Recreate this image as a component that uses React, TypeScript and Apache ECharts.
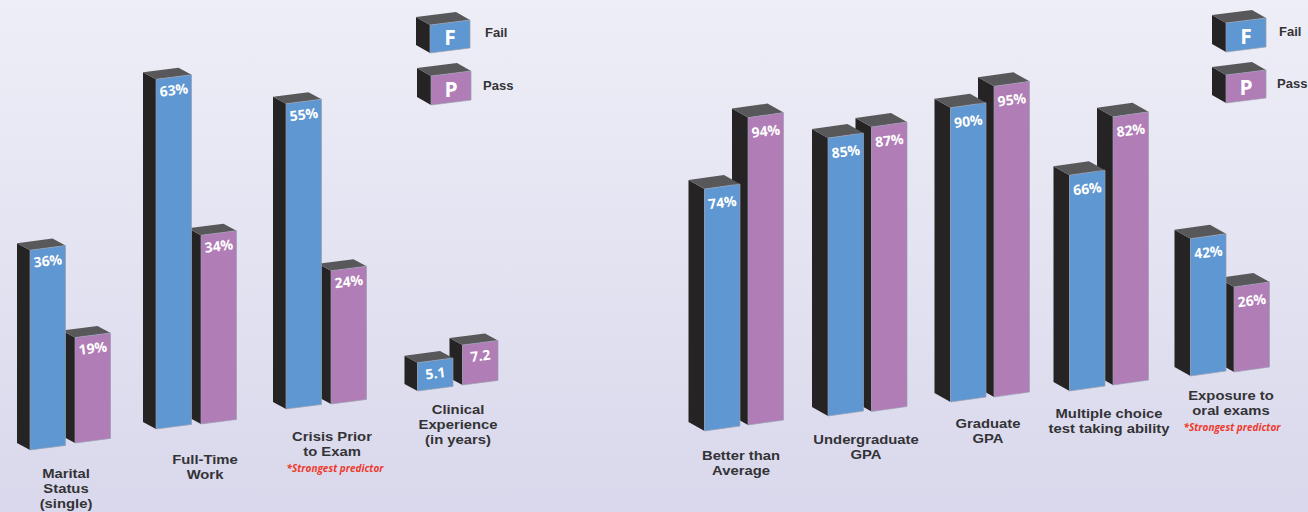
import React, { useEffect, useRef } from "react";
import * as echarts from "echarts";

// ---- data ----
const leftCategories = ["Marital Status (single)", "Full-Time Work", "Crisis Prior to Exam", "Clinical Experience (in years)"];
const leftFail = [36, 63, 55, 5.1];
const leftPass = [19, 34, 24, 7.2];
const leftUnits = ["%", "%", "%", ""];
const rightCategories = ["Better than Average", "Undergraduate GPA", "Graduate GPA", "Multiple choice test taking ability", "Exposure to oral exams"];
const rightFail = [74, 85, 90, 66, 42];
const rightPass = [94, 87, 95, 82, 26];
const rightUnits = ["%", "%", "%", "%", "%"];

// ---- layout ----
const leftFailBase = [450, 429, 409, 391];
const leftPassBase = [443, 424, 404, 385];
const leftNudge = [0, -3, -2, 0.5];
const rightFailBase = [431, 416, 402, 391, 376];
const rightPassBase = [425, 411.5, 397, 385, 372];
const rightNudge = [-0.5, 1.5, 2.5, 0, -0.5];

const BLUE = "#5e97d1";
const PURPLE = "#b07db6";
const SIDE = "#252324";
const TOP = "#58585a";
const EDGE = "#9a9fb0";
const INK = "#333336";
const RED = "#ee3a2c";
const FONT = '"Open Sans", sans-serif';
const CAPTION_FONT = '"Liberation Sans", sans-serif';

type Geo = { w: number; rise: number; dx: number; dy: number };

function box(x: number, base: number, h: number, g: Geo, color: string) {
  const bl = [x, base];
  const br = [x + g.w, base - g.rise];
  const tr = [x + g.w, base - g.rise - h];
  const tl = [x, base - h];
  const sh = (p: number[]) => [p[0] - g.dx, p[1] - g.dy];
  return [
    { type: "polygon", shape: { points: [bl, tl, sh(tl), sh(bl)] }, style: { fill: SIDE } },
    { type: "polygon", shape: { points: [tl, tr, sh(tr), sh(tl)] }, style: { fill: TOP } },
    { type: "polygon", shape: { points: [bl, br, tr, tl] }, style: { fill: color, stroke: EDGE, lineWidth: 0.7 } },
  ];
}

function barSeries(
  name: string,
  values: number[],
  units: string[],
  bases: number[],
  nudges: number[],
  axisIndex: number,
  color: string,
  lead: number,
  g: Geo,
  labelDrop: number
) {
  return {
    type: "custom",
    name,
    xAxisIndex: axisIndex,
    yAxisIndex: axisIndex,
    silent: true,
    encode: { x: 0, y: 1 },
    data: values.map((v, i) => [i, v]),
    renderItem: (_: any, api: any) => {
      const i = api.value(0);
      const v = api.value(1);
      const top = api.coord([i, v]);
      const zero = api.coord([i, 0]);
      const h = zero[1] - top[1];
      const x = top[0] + nudges[i] + lead;
      const base = bases[i];
      const label = {
        type: "text",
        x: x + g.w / 2,
        y: base - h - g.rise / 2 + labelDrop,
        rotation: 0.12,
        style: {
          text: `${v}${units[i]}`,
          fill: "#ffffff",
          fontFamily: FONT,
          fontWeight: 700,
          fontSize: 14,
          align: "center",
          verticalAlign: "middle",
        },
      };
      return { type: "group", children: [...box(x, base, h, g, color), label] };
    },
  };
}

const legendGeo = (rise: number): Geo => ({ w: 40, rise, dx: 14, dy: 8 });

function legendCube(x: number, base: number, h: number, color: string, letter: string, caption: string, capX: number, capY: number) {
  const g = legendGeo(5);
  return [
    ...box(x, base, h, g, color),
    {
      type: "text",
      x: x + 20,
      y: base - h / 2 - 2,
      style: { text: letter, fill: "#ffffff", fontFamily: FONT, fontWeight: 700, fontSize: 21, align: "center", verticalAlign: "middle" },
    },
    {
      type: "text",
      x: capX,
      y: capY,
      style: { text: caption, fill: INK, fontFamily: CAPTION_FONT, fontWeight: 700, fontSize: 13, align: "left", verticalAlign: "middle" },
    },
  ];
}

function caption(text: string, x: number, y: number) {
  return {
    type: "text",
    x,
    y,
    scaleX: 1.14,
    style: { text, fill: INK, fontFamily: CAPTION_FONT, fontWeight: 700, fontSize: 13, lineHeight: 15, align: "center", verticalAlign: "middle" },
  };
}

function note(x: number, y: number) {
  return {
    type: "text",
    x,
    y,
    style: { text: "*Strongest predictor", fill: RED, fontFamily: FONT, fontWeight: 700, fontStyle: "italic", fontSize: 10, align: "center", verticalAlign: "middle" },
  };
}

export default function App() {
  const ref = useRef<HTMLDivElement>(null);
  useEffect(() => {
    document.body.style.margin = "0";
    const chart = echarts.init(ref.current!, undefined, { renderer: "svg" });
    const lg: Geo = { w: 35.5, rise: 4.6, dx: 13, dy: 7 };
    const rg: Geo = { w: 35.5, rise: 5, dx: 16, dy: 9 };
    chart.setOption({
      animation: false,
      backgroundColor: {
        type: "linear",
        x: 0,
        y: 0,
        x2: 0,
        y2: 1,
        colorStops: [
          { offset: 0, color: "#eeeef7" },
          { offset: 1, color: "#d9d8ec" },
        ],
      },
      grid: [
        { left: 5.5, width: 516, top: 0, height: 444 },
        { left: 683.25, width: 607.5, top: 0, height: 327 },
      ],
      xAxis: [
        { type: "category", gridIndex: 0, data: leftCategories, show: false },
        { type: "category", gridIndex: 1, data: rightCategories, show: false },
      ],
      yAxis: [
        { type: "value", gridIndex: 0, min: 0, max: 80, show: false },
        { type: "value", gridIndex: 1, min: 0, max: 100, show: false },
      ],
      series: [
        barSeries("Pass", leftPass, leftUnits, leftPassBase, leftNudge, 0, PURPLE, 5, lg, 12.5),
        barSeries("Fail", leftFail, leftUnits, leftFailBase, leftNudge, 0, BLUE, -40, lg, 12.5),
        barSeries("Pass", rightPass, rightUnits, rightPassBase, rightNudge, 1, PURPLE, 4.5, rg, 15.5),
        barSeries("Fail", rightFail, rightUnits, rightFailBase, rightNudge, 1, BLUE, -39, rg, 15.5),
      ],
      graphic: [
        ...legendCube(430, 53, 28, BLUE, "F", "Fail", 485, 32.5),
        ...legendCube(431, 105, 29, PURPLE, "P", "Pass", 483, 85.5),
        ...legendCube(1226, 52, 29, BLUE, "F", "Fail", 1279, 31.5),
        ...legendCube(1226, 103, 28, PURPLE, "P", "Pass", 1277, 83.5),
        caption("Marital\nStatus\n(single)", 66, 488),
        caption("Full-Time\nWork", 205, 467),
        caption("Crisis Prior\nto Exam", 332, 444),
        note(335, 468),
        caption("Clinical\nExperience\n(in years)", 458, 424),
        caption("Better than\nAverage", 741, 463),
        caption("Undergraduate\nGPA", 866, 447),
        caption("Graduate\nGPA", 988, 431),
        caption("Multiple choice\ntest taking ability", 1109, 421),
        caption("Exposure to\noral exams", 1231, 403),
        note(1232, 427),
      ],
    });
    return () => chart.dispose();
  }, []);
  return <div ref={ref} style={{ position: "absolute", left: 0, top: 0, width: 1308, height: 512 }} />;
}
